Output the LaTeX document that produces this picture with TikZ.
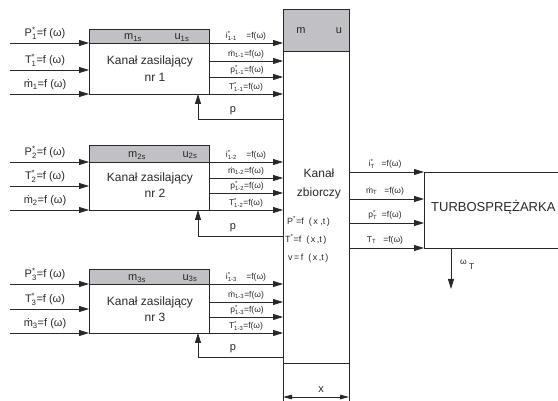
\documentclass[tikz,border=0pt]{standalone}
\usepackage{fontspec}
\usepackage{amsmath}
\setmainfont{Liberation Sans}
\usetikzlibrary{arrows.meta,calc}
\definecolor{hdr}{RGB}{192,192,197}
\definecolor{lnc}{RGB}{40,40,40}
\newcommand\supsub[2]{\smash{$^{\text{#1}}_{\text{#2}}$}}
\newcommand\subonly[1]{\smash{$_{\text{#1}}$}}
\begin{document}
\begin{tikzpicture}[x=1pt,y=-1pt,
  lnx/.style={draw=lnc,line width=0.8pt},
  arr/.style={lnx,-{Triangle[length=10pt,width=6pt]}},
  dimarr/.style={lnx,{Triangle[length=9pt,width=4.5pt]}-{Triangle[length=9pt,width=4.5pt]}},
  lab/.style={font=\fontsize{11}{13}\selectfont,inner sep=0pt,text=lnc},
  blab/.style={font=\fontsize{12}{14}\selectfont,inner sep=0pt,text=lnc},
  slab/.style={font=\fontsize{8.5}{9}\selectfont,inner sep=0pt,text=lnc},
  elab/.style={font=\fontsize{9}{10}\selectfont,inner sep=0pt,text=lnc,anchor=west}]
\useasboundingbox (0,0) rectangle (558,401);

% feeding channels
\foreach \k/\t/\h/\b/\i/\oa/\ob/\f/\mx/\ux in {1/29/43/94/70/61/77/119/133/182,2/145/162/210/186/178/193/236/137/190,3/269/284/333/309/302/317/357/137/190}{
  \fill[hdr] (89,\t) rectangle (209,\h);
  \draw[lnx] (89,\t) rectangle (209,\b);
  \draw[lnx] (89,\h) -- (209,\h);
  \node[lab] (m\k) at (\mx,{(\t+\h)/2+1}) {m\subonly{\k s}};
  \node[lab] (u\k) at (\ux,{(\t+\h)/2+1}) {u\subonly{\k s}};
  \node[blab] (k\k) at (150,\oa) {Kanał zasilający};
  \node[blab] (n\k) at (155,\ob) {nr \k};
  % inputs
  \coordinate (ia\k) at (10,\h);
  \coordinate (ib\k) at (10,\i);
  \coordinate (ic\k) at (10,\b);
  \draw[arr] (ia\k) -- (89,\h);
  \draw[arr] (ib\k) -- (89,\i);
  \draw[arr] (ic\k) -- (89,\b);
  \node[lab,anchor=south] at (45,{\h-4}) {P\supsub{*}{\k}=f (ω)};
  \node[lab,anchor=south] at (45,{\i-4}) {T\supsub{*}{\k}=f (ω)};
  \node[lab,anchor=south] at (45,{\b-4}) {ṁ\subonly{\k}=f (ω)};
  % outputs
  \draw[arr] (209,\h) -- (283,\h);
  \draw[arr] (209,\oa) -- (283,\oa);
  \draw[arr] (209,\ob) -- (283,\ob);
  \draw[arr] (209,\b) -- (283,\b);
  \node[slab,anchor=south] at (246,{\h-3}) {i\supsub{*}{1-\k}\ \ \ \ =f(ω)};
  \node[slab,anchor=south] at (246,{\oa-3}) {ṁ\subonly{1-\k}=f(ω)};
  \node[slab,anchor=south] at (247,{\ob-3}) {p\supsub{*}{1-\k}=f(ω)};
  \node[slab,anchor=south] at (246,{\b-3}) {T\supsub{*}{1-\k}=f(ω)};
  % feedback
  \draw[arr] (283,\f) -- (198,\f) -- (198,\b);
  \node[lab,anchor=south] at (233,{\f-4}) {p};
}

% collector
\fill[hdr] (283,9) rectangle (349,51);
\draw[lnx] (283,401) -- (283,9) -- (349,9) -- (349,401);
\draw[lnx] (283,51) -- (349,51);
\draw[lnx] (283,363) -- (349,363);
\node[lab] (cm) at (301,31) {m};
\node[lab] (cu) at (339,31) {u};
\node[blab] (kz) at (319,173) {Kanał};
\node[blab] (zb) at (319,193) {zbiorczy};
\node[elab] (e1) at (287,222) {P\smash{$^{\text{*}}$}=f\ \ (\,x\ ,t\,)};
\node[elab] (e2) at (285,240) {T\smash{$^{\text{*}}$}=f\ \ (\,x\,,t\,)};
\node[elab] (e3) at (288,258) {v\,=\,f\ \ (\,x\,,t\,)};
\coordinate (dl) at (283,397);
\coordinate (dr) at (349,397);
\draw[dimarr] (dl) -- (dr);
\node[lab] (xl) at (321,390) {x};

% turbocompressor
\draw[lnx] (558,172) -- (424,172) -- (424,248) -- (558,248);
\node[font=\fontsize{13}{15}\selectfont,inner sep=0pt,anchor=west,text=lnc] (tb) at (431,207) {TURBOSPRĘŻARKA};
\draw[arr] (349,172) -- (424,172);
\draw[arr] (349,199) -- (424,199);
\draw[arr] (349,223) -- (424,223);
\draw[arr] (349,248) -- (424,248);
\node[slab,anchor=south] at (385,168) {i\supsub{*}{T}\ \ \ =f(ω)};
\node[slab,anchor=south] at (385,195) {ṁ\subonly{T}\ \ \ =f(ω)};
\node[slab,anchor=south] at (385,219) {p\supsub{*}{T}\ \ =f(ω)};
\node[slab,anchor=south] at (385,244) {T\subonly{T}\ \ \ =f(ω)};
\coordinate (wo) at (451,248);
\coordinate (we) at (451,289);
\draw[arr] (wo) -- (we);
\node[slab,anchor=west] (wl) at (460,262) {ω\smash{\raisebox{-1.2ex}{\ T}}};
\end{tikzpicture}
\end{document}
